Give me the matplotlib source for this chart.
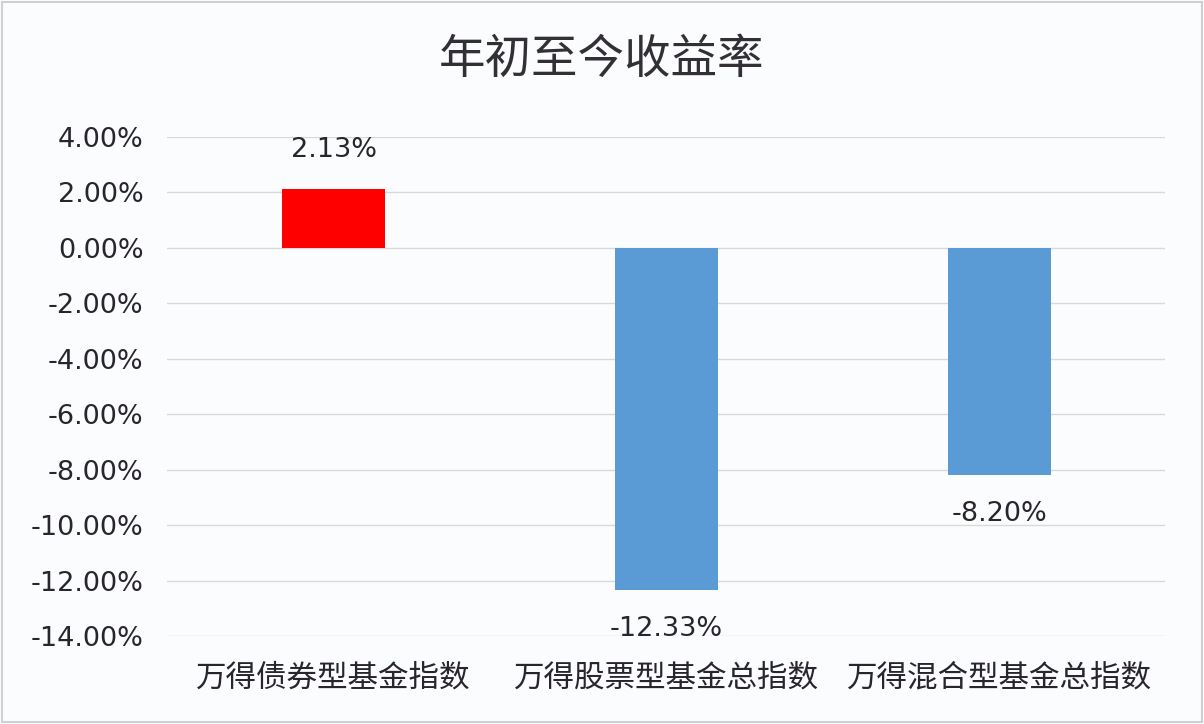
import matplotlib.pyplot as plt
from matplotlib.patches import Rectangle

plt.rcParams['font.family'] = ['Noto Sans CJK SC', 'DejaVu Sans']

# 数据
categories = ['万得债券型基金指数', '万得股票型基金总指数', '万得混合型基金总指数']
returns = [2.13, -12.33, -8.20]
yticks = [4, 2, 0, -2, -4, -6, -8, -10, -12, -14]

bg = '#FBFCFD'
text_color = '#28252C'
num_font = 'DejaVu Sans'

fig = plt.figure(figsize=(12.04, 7.24), dpi=100, facecolor=bg)
ax = fig.add_axes([0.139, 0.1215, 0.829, 0.6893], facecolor=bg)

colors = ['#FF0000' if v > 0 else '#5B9BD5' for v in returns]
x = range(len(categories))
ax.bar(x, returns, width=0.31, color=colors, zorder=3)

# 数据标签
for i, v in enumerate(returns):
    off = 28 if v > 0 else -28
    ax.annotate(f'{v:.2f}%', (i, v), xytext=(0, off), textcoords='offset points',
                ha='center', va='center', fontsize=19.5, color=text_color,
                family=num_font)

ax.set_xlim(-0.5, 2.5)
ax.set_ylim(-14, 4)
ax.set_yticks(yticks)
ax.set_yticklabels([f'{t:.2f}%' for t in yticks], fontsize=19.5, color=text_color,
                   family=num_font)
ax.set_xticks(list(x))
ax.set_xticklabels(categories, fontsize=22, color=text_color)
ax.tick_params(axis='y', length=0, pad=17)
ax.tick_params(axis='x', length=0, pad=19)
ax.grid(axis='y', color='#D9D9D9', linewidth=1, zorder=0)
for s in ax.spines.values():
    s.set_visible(False)

fig.text(0.5, 0.917, '年初至今收益率', ha='center', va='center', fontsize=33.5,
         color='#333035', fontweight='medium')

# 外边框
fig.patches.append(Rectangle((0.002, 0.003), 0.996, 0.994, transform=fig.transFigure,
                             fill=False, edgecolor='#D0D0D0', linewidth=1.5))

fig.savefig('out.png', dpi=100, facecolor=bg)
